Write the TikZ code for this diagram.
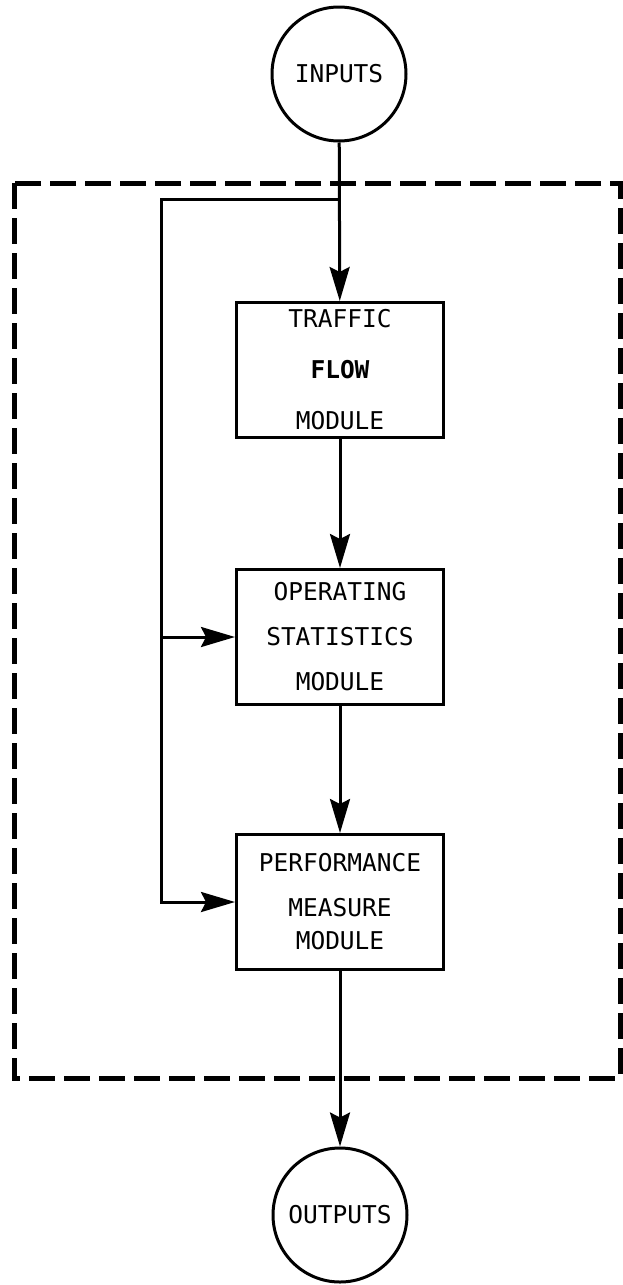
\documentclass[tikz,border=0pt]{standalone}
\usepackage{fontspec}
\setmonofont{DejaVu Sans Mono}
\usetikzlibrary{arrows.meta}

\begin{document}
\begin{tikzpicture}[
  x=1pt, y=-1pt,
  every node/.style={font=\ttfamily\fontsize{24.5}{45}\selectfont},
  port/.style={draw, circle, line width=3pt, minimum size=134pt, inner sep=0pt},
  module/.style={draw, line width=3pt, minimum width=207pt, minimum height=135pt, align=center, inner sep=0pt},
  flow/.style={line width=3pt, -{Stealth[length=34pt, width=20pt, inset=5pt]}},
  bound/.style={line width=5pt, dash pattern=on 26pt off 9pt},
]
  \useasboundingbox (0,0) rectangle (623,1285);

  % model boundary
  \draw[bound] (14,183) rectangle (620,1078);

  \node[port]   (inputs)  at (339,74)   {INPUTS};
  \node[module] (traffic) at (340,370)  {TRAFFIC\\[6pt]\textbf{FLOW}\\[6pt]MODULE};
  \node[module] (ops)     at (340,637)  {OPERATING\\STATISTICS\\MODULE};
  \node[module] (perf)    at (340,902)  {PERFORMANCE\\MEASURE\\[-12pt]MODULE};
  \node[port]   (outputs) at (340,1215) {OUTPUTS};

  \coordinate (split)  at (340,199);
  \coordinate (corner) at (161,199);

  \draw[flow] (inputs) -- (traffic);
  \draw[flow] (traffic) -- (ops);
  \draw[flow] (ops) -- (perf);
  \draw[flow] (perf) -- (outputs);

  % feedback of inputs to the later modules
  \draw[flow] (split) -- (corner) |- (perf.west);
  \draw[flow] (corner |- ops.west) -- (ops.west);
\end{tikzpicture}
\end{document}
